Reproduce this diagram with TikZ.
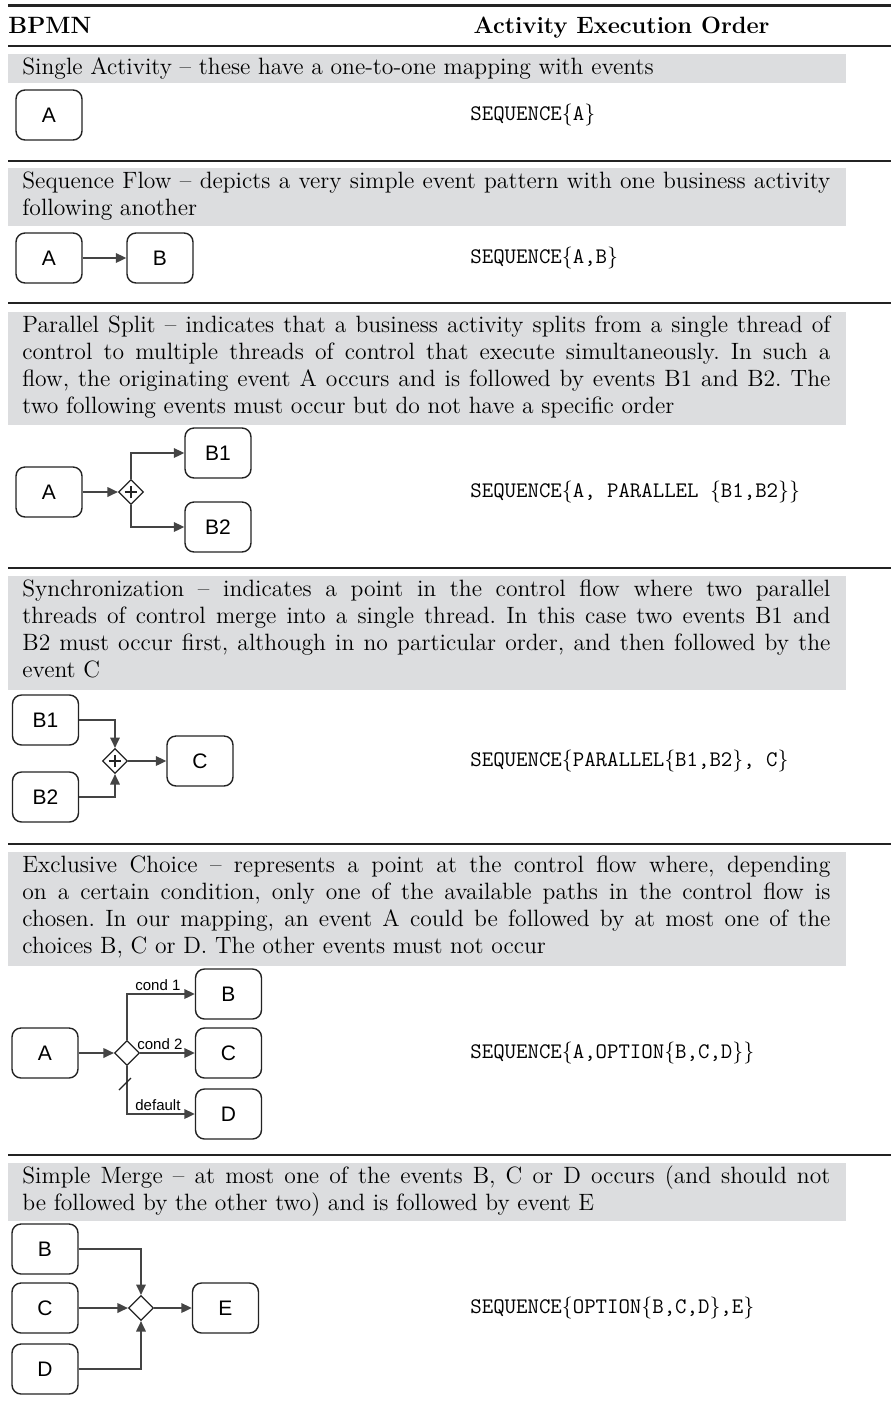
\documentclass[tikz,border=0pt]{standalone}
\usepackage{fontspec}
\newfontfamily\flowfont{Liberation Sans}
\usetikzlibrary{arrows.meta,shapes.geometric}
\definecolor{bandgray}{RGB}{220,221,223}
\definecolor{ink}{RGB}{35,35,35}
\newcommand\fullline[1]{\makebox[404pt][s]{#1}}

\begin{document}
\frenchspacing
\begin{tikzpicture}[x=0.5pt,y=-0.5pt,
  toprule/.style={draw=ink,line width=1.6pt},
  midrule/.style={draw=ink,line width=1pt},
  band/.style={fill=bandgray},
  body/.style={anchor=base west,inner sep=0pt,font=\fontsize{11.8}{13.6}\selectfont},
  head/.style={inner sep=0pt,font=\fontsize{11.8}{13.6}\selectfont\bfseries},
  order/.style={anchor=west,inner sep=0pt,font=\fontsize{11.1}{13.6}\selectfont\ttfamily},
  task/.style={draw=ink,line width=0.7pt,rounded corners=4.5pt,minimum width=33pt,
    minimum height=25pt,inner sep=0pt,font=\flowfont\fontsize{10.5}{12}\selectfont},
  gate/.style={draw=ink,line width=0.6pt,diamond,aspect=1,minimum width=12.5pt,
    minimum height=12.5pt,inner sep=0pt,fill=white},
  plusbar/.style={draw=ink,line width=1.4pt},
  flow/.style={draw=ink!85,line width=0.7pt,-{Triangle[length=5.2pt,width=4.8pt]}},
  cond/.style={anchor=base west,inner sep=0pt,font=\flowfont\fontsize{7.5}{8}\selectfont}]
\useasboundingbox (0,0) rectangle (891,1404);

% table rules
\draw[toprule] (8,5.5) -- (891,5.5);
\foreach \y in {46,161,303,568,844,1155} \draw[midrule] (8,\y) -- (891,\y);

% header
\node[head,anchor=base west] (hbpmn) at (8,33) {BPMN};
\node[head,anchor=base east] (horder) at (770,33) {Activity Execution Order};

% grey description bands
\fill[band] (8,54) rectangle (846,83);
\fill[band] (8,168) rectangle (846,226);
\fill[band] (8,312) rectangle (846,425);
\fill[band] (8,576) rectangle (846,690);
\fill[band] (8,852) rectangle (846,966);
\fill[band] (8,1163) rectangle (846,1221);

% descriptions
\node[body] (t1a) at (22,74) {Single Activity -- these have a one-to-one mapping with events};

\node[body] (t2a) at (22,188) {\fullline{Sequence Flow -- depicts a very simple event pattern with one business activity}};
\node[body] (t2b) at (22,215) {following another};

\node[body] (t3a) at (22,332) {\fullline{Parallel Split -- indicates that a business activity splits from a single thread of}};
\node[body] (t3b) at (22,359) {\fullline{control to multiple threads of control that execute simultaneously. In such a}};
\node[body] (t3c) at (22,386) {\fullline{flow, the originating event A occurs and is followed by events B1 and B2. The}};
\node[body] (t3d) at (22,413) {two following events must occur but do not have a specific order};

\node[body] (t4a) at (22,596) {\fullline{Synchronization -- indicates a point in the control flow where two parallel}};
\node[body] (t4b) at (22,623) {\fullline{threads of control merge into a single thread. In this case two events B1 and}};
\node[body] (t4c) at (22,650) {\fullline{B2 must occur first, although in no particular order, and then followed by the}};
\node[body] (t4d) at (22,677) {event C};

\node[body] (t5a) at (22,872) {\fullline{Exclusive Choice -- represents a point at the control flow where, depending}};
\node[body] (t5b) at (22,899) {\fullline{on a certain condition, only one of the available paths in the control flow is}};
\node[body] (t5c) at (22,926) {\fullline{chosen. In our mapping, an event A could be followed by at most one of the}};
\node[body] (t5d) at (22,953) {choices B, C or D. The other events must not occur};

\node[body] (t6a) at (22,1183) {\fullline{Simple Merge -- at most one of the events B, C or D occurs (and should not}};
\node[body] (t6b) at (22,1210) {be followed by the other two) and is followed by event E};

% execution orders
\node[order] (o1) at (470,115) {SEQUENCE$\{$A$\}$};
\node[order] (o2) at (470,258) {SEQUENCE$\{$A,B$\}$};
\node[order] (o3) at (470,492) {SEQUENCE$\{$A, PARALLEL $\{$B1,B2$\}\}$};
\node[order] (o4) at (470,761) {SEQUENCE$\{$PARALLEL$\{$B1,B2$\}$, C$\}$};
\node[order] (o5) at (470,1053) {SEQUENCE$\{$A,OPTION$\{$B,C,D$\}\}$};
\node[order] (o6) at (470,1308) {SEQUENCE$\{$OPTION$\{$B,C,D$\}$,E$\}$};

% single activity
\node[task] (a1) at (49,115) {A};

% sequence flow
\node[task] (a2) at (49,258) {A};
\node[task] (b2) at (160,258) {B};
\draw[flow] (a2) -- (b2);

% parallel split
\node[task] (a3) at (49,492) {A};
\node[gate] (p3) at (131,492) {};
\draw[plusbar] ([xshift=-3.2pt]p3.center) -- ([xshift=3.2pt]p3.center);
\draw[plusbar] ([yshift=-3.2pt]p3.center) -- ([yshift=3.2pt]p3.center);
\node[task] (b13) at (218,453) {B1};
\node[task] (b23) at (218,527) {B2};
\draw[flow] (a3) -- (p3);
\draw[flow] (p3.north) |- (b13.west);
\draw[flow] (p3.south) |- (b23.west);

% synchronization
\node[task] (b14) at (45.5,720) {B1};
\node[task] (b24) at (45.5,797) {B2};
\node[gate] (p4) at (115,761) {};
\draw[plusbar] ([xshift=-3.2pt]p4.center) -- ([xshift=3.2pt]p4.center);
\draw[plusbar] ([yshift=-3.2pt]p4.center) -- ([yshift=3.2pt]p4.center);
\node[task] (c4) at (200,761) {C};
\draw[flow] (b14.east) -| (p4.north);
\draw[flow] (b24.east) -| (p4.south);
\draw[flow] (p4) -- (c4);

% exclusive choice
\node[task] (a5) at (45,1053) {A};
\node[gate] (x5) at (127,1053) {};
\node[task] (b5) at (228.5,994) {B};
\node[task] (c5) at (228.5,1053) {C};
\node[task] (d5) at (228.5,1114) {D};
\draw[flow] (a5) -- (x5);
\draw[flow] (x5.north) |- (b5.west);
\draw[flow] (x5) -- (c5);
\draw[flow] (x5.south) |- (d5.west);
\node[cond] (l1) at (135,990) {cond 1};
\node[cond] (l2) at (137,1049) {cond 2};
\node[cond] (l3) at (135,1110) {default};
\coordinate (s1) at (119,1090);
\coordinate (s2) at (131,1078);
\draw[draw=ink,line width=0.6pt] (s1) -- (s2);

% simple merge
\node[task] (b6) at (45,1249) {B};
\node[task] (c6) at (45,1308) {C};
\node[task] (d6) at (45,1369) {D};
\node[gate] (x6) at (141,1308) {};
\node[task] (e6) at (225.5,1308) {E};
\draw[flow] (b6.east) -| (x6.north);
\draw[flow] (c6) -- (x6);
\draw[flow] (d6.east) -| (x6.south);
\draw[flow] (x6) -- (e6);
\end{tikzpicture}
\end{document}
